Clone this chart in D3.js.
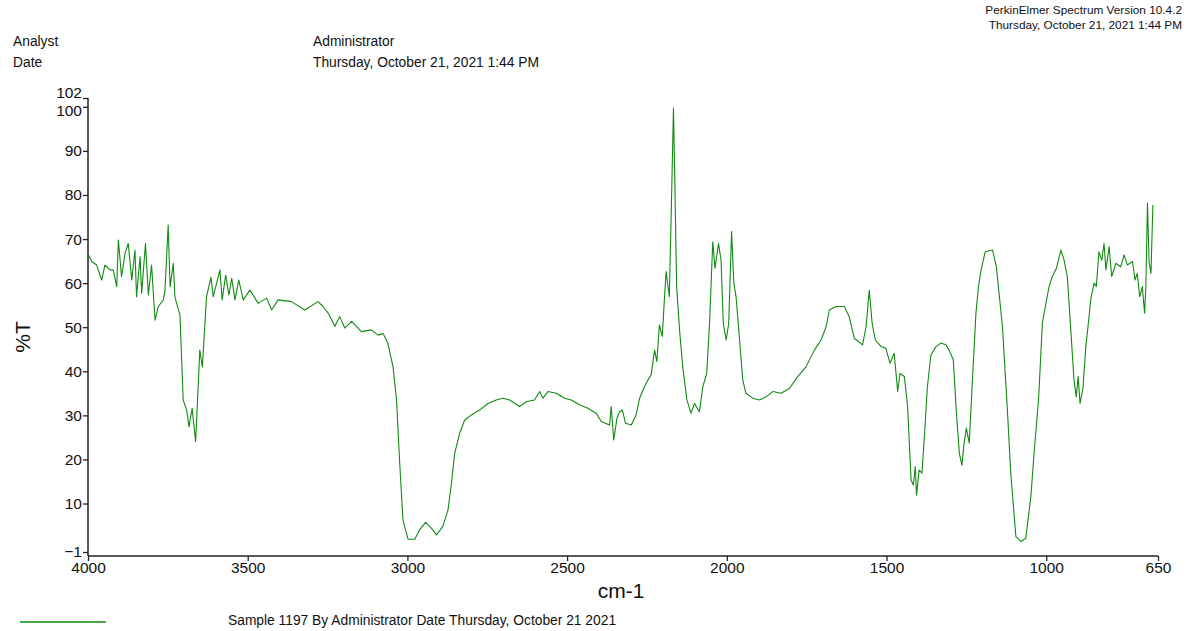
<!DOCTYPE html>
<html>
<head>
<meta charset="utf-8">
<script src="https://cdn.jsdelivr.net/npm/d3@7"></script>
<style>
  body { margin: 0; background: #fff; }
  svg { display: block; font-family: "Liberation Sans", Arial, sans-serif; }
</style>
</head>
<body>
<div id="chart"></div>
<script>
// Spectrum values (wavenumber in cm-1, %T)
const wavenumber = [
  3999, 3988, 3973, 3957, 3947, 3931, 3921, 3910, 3905, 3895, 3884, 3874, 3863, 3853, 3848, 3837,
  3832, 3820, 3811, 3801, 3790, 3780, 3764, 3759, 3749, 3743, 3733, 3728, 3712, 3702, 3691, 3684,
  3674, 3663, 3650, 3642, 3629, 3615, 3608, 3587, 3580, 3569, 3559, 3550, 3540, 3528, 3514, 3493,
  3467, 3441, 3425, 3405, 3363, 3321, 3280, 3264, 3248, 3227, 3212, 3196, 3175, 3144, 3113, 3092,
  3076, 3061, 3045, 3034, 3024, 3014, 2998, 2977, 2962, 2943, 2925, 2909, 2889, 2873, 2862, 2852,
  2836, 2821, 2800, 2774, 2748, 2722, 2701, 2680, 2649, 2628, 2602, 2586, 2576, 2560, 2534, 2508,
  2487, 2461, 2435, 2409, 2393, 2367, 2362, 2354, 2344, 2336, 2327, 2317, 2299, 2284, 2273, 2258,
  2247, 2237, 2226, 2219, 2211, 2202, 2195, 2190, 2180, 2174, 2167, 2161, 2157, 2148, 2138, 2125,
  2112, 2101, 2086, 2075, 2063, 2054, 2044, 2037, 2026, 2018, 2011, 2002, 1994, 1985, 1978, 1971,
  1960, 1950, 1940, 1919, 1898, 1877, 1856, 1830, 1804, 1778, 1752, 1726, 1705, 1689, 1679, 1658,
  1632, 1617, 1601, 1575, 1564, 1554, 1545, 1535, 1517, 1502, 1489, 1476, 1465, 1458, 1444, 1434,
  1423, 1416, 1410, 1406, 1398, 1389, 1382, 1372, 1361, 1345, 1330, 1314, 1304, 1291, 1281, 1272,
  1264, 1257, 1250, 1241, 1231, 1220, 1212, 1204, 1191, 1168, 1156, 1137, 1121, 1111, 1095, 1079,
  1064, 1048, 1038, 1024, 1012, 1001, 991, 981, 968, 954, 944, 934, 923, 913, 906, 900,
  894, 885, 876, 868, 860, 850, 843, 835, 826, 819, 813, 803, 795, 782, 767, 756,
  746, 730, 722, 715, 707, 699, 692, 688, 683, 678, 672, 666
];
const transmittance = [
  66.5, 64.9, 64.1, 60.7, 64.1, 63.0, 63.0, 59.2, 69.8, 61.5, 66.8, 69.0, 60.7, 67.5, 56.9, 66.0,
  57.7, 69.0, 57.3, 64.1, 51.6, 54.7, 56.2, 58.4, 73.2, 59.2, 64.5, 56.9, 52.7, 33.5, 31.2, 27.4,
  31.6, 24.0, 44.8, 41.0, 56.9, 61.3, 56.9, 63.0, 56.2, 61.8, 57.3, 61.1, 56.2, 60.7, 56.2, 58.4,
  55.4, 56.6, 53.9, 56.2, 55.8, 53.9, 55.8, 54.7, 53.2, 50.2, 52.4, 49.8, 51.3, 49.0, 49.4, 48.2,
  48.6, 46.3, 41.0, 33.5, 19.0, 6.3, 1.9, 1.9, 4.0, 5.7, 4.4, 2.9, 4.8, 8.5, 14.6, 21.4,
  26.0, 28.9, 30.1, 31.2, 32.7, 33.5, 33.9, 33.5, 32.0, 33.1, 33.5, 35.4, 33.9, 35.4, 35.0, 33.9,
  33.5, 32.4, 31.6, 30.5, 28.6, 27.8, 32.0, 24.4, 29.3, 30.8, 31.2, 28.2, 27.8, 30.1, 33.9, 36.5,
  38.0, 39.2, 44.8, 42.2, 50.5, 47.9, 56.9, 62.6, 56.9, 75.8, 99.7, 75.8, 59.2, 49.4, 41.0, 33.5,
  30.5, 32.7, 30.8, 36.5, 39.5, 50.9, 69.4, 63.4, 69.0, 65.2, 50.9, 47.1, 50.9, 71.7, 60.0, 56.9,
  47.1, 38.0, 35.0, 33.9, 33.5, 34.2, 35.4, 35.0, 36.1, 38.8, 41.0, 44.8, 47.1, 50.1, 53.9, 54.7,
  54.7, 52.4, 47.5, 46.0, 50.1, 58.4, 50.9, 47.1, 45.6, 45.2, 41.8, 44.1, 35.4, 39.5, 38.8, 32.0,
  15.3, 14.2, 18.4, 11.9, 17.6, 16.9, 24.4, 36.5, 43.7, 45.6, 46.4, 46.0, 44.8, 42.6, 30.5, 21.4,
  18.7, 23.7, 27.1, 23.7, 38.0, 53.2, 59.2, 63.0, 67.1, 67.5, 63.7, 50.1, 30.5, 16.9, 2.5, 1.4,
  2.1, 11.6, 21.4, 33.5, 50.9, 55.4, 59.2, 61.5, 63.4, 67.5, 65.2, 61.5, 49.4, 38.0, 34.2, 38.8,
  32.7, 36.1, 45.6, 50.9, 56.6, 60.0, 59.2, 67.1, 65.2, 69.0, 63.0, 68.3, 61.5, 64.5, 63.7, 66.4,
  64.1, 64.9, 60.7, 62.2, 56.9, 59.2, 53.2, 59.2, 78.1, 64.9, 62.2, 77.7
];

const xTicks = [4000, 3500, 3000, 2500, 2000, 1500, 1000, 650];
const yTicks = [-1, 10, 20, 30, 40, 50, 60, 70, 80, 90, 100, 102];

const headerLabels = ['Analyst', 'Date'];
const headerValues = ['Administrator', 'Thursday, October 21, 2021 1:44 PM'];
const stampLines = ['PerkinElmer Spectrum Version 10.4.2', 'Thursday, October 21, 2021 1:44 PM'];
const legendText = 'Sample 1197 By Administrator Date Thursday, October 21 2021';

const width = 1195, height = 631;
const lineColor = '#118a11';
const textColor = '#111';

const svg = d3.select('#chart')
  .append('svg')
  .attr('width', width)
  .attr('height', height);

svg.append('rect').attr('width', width).attr('height', height).attr('fill', '#fff');

// Scales
const x = d3.scaleLinear().domain([4000, 650]).range([88, 1158]);
const y = d3.scaleLinear().domain([-1, 102]).range([552, 98]);
const xAxisY = 556;

// Header block
headerLabels.forEach((t, i) => {
  svg.append('text').attr('x', 13).attr('y', 46 + i * 21)
    .attr('font-size', 13.8).attr('fill', textColor).text(t);
  svg.append('text').attr('x', 313).attr('y', 46 + i * 21)
    .attr('font-size', 13.8).attr('fill', textColor).text(headerValues[i]);
});
stampLines.forEach((t, i) => {
  svg.append('text').attr('x', 1182).attr('y', 14 + i * 15)
    .attr('text-anchor', 'end').attr('font-size', 11.8).attr('fill', textColor).text(t);
});

// Axes
const yAxis = d3.axisLeft(y).tickValues(yTicks).tickSize(5).tickSizeOuter(0).tickFormat(d3.format('d'));
const gy = svg.append('g').attr('transform', 'translate(88,0)').call(yAxis);
gy.select('.domain').remove();
gy.append('line').attr('x1', 0).attr('x2', 0).attr('y1', y(102)).attr('y2', xAxisY)
  .attr('stroke', '#222').attr('stroke-width', 1.5);

const xAxis = d3.axisBottom(x).tickValues(xTicks).tickSize(5).tickSizeOuter(0).tickFormat(d3.format('d'));
const gx = svg.append('g').attr('transform', `translate(0,${xAxisY})`).call(xAxis);
gx.select('.domain').remove();
gx.append('line').attr('x1', x(4000)).attr('x2', x(650)).attr('y1', 0).attr('y2', 0)
  .attr('stroke', '#222').attr('stroke-width', 1.5);

[gx, gy].forEach(g => {
  g.selectAll('.tick line').attr('stroke', '#222').attr('stroke-width', 1.3);
  g.selectAll('.tick text').attr('fill', textColor).attr('font-size', 15.5)
    .attr('font-family', '"Liberation Sans", Arial, sans-serif');
});
gy.selectAll('.tick text').attr('x', -6)
  .attr('dy', d => d === 102 ? '-0.05em' : d === 100 ? '0.55em' : '0.32em');
gx.selectAll('.tick text').attr('y', 6);

// Axis titles
svg.append('text')
  .attr('transform', 'translate(30,337) rotate(-90)')
  .attr('text-anchor', 'middle').attr('font-size', 21).attr('fill', textColor).text('%T');
svg.append('text')
  .attr('x', 621).attr('y', 598)
  .attr('text-anchor', 'middle').attr('font-size', 21).attr('fill', textColor).text('cm-1');

// Spectrum line
const points = wavenumber.map((w, i) => [w, transmittance[i]]);
const line = d3.line().x(d => x(d[0])).y(d => y(d[1]));
svg.append('path')
  .datum(points)
  .attr('d', line)
  .attr('fill', 'none')
  .attr('stroke', lineColor)
  .attr('stroke-width', 1.1)
  .attr('stroke-linejoin', 'round');

// Legend
svg.append('line').attr('x1', 20).attr('x2', 106).attr('y1', 622).attr('y2', 622)
  .attr('stroke', lineColor).attr('stroke-width', 1.5);
svg.append('text').attr('x', 228).attr('y', 625)
  .attr('font-size', 13.8).attr('fill', textColor).text(legendText);
</script>
</body>
</html>
